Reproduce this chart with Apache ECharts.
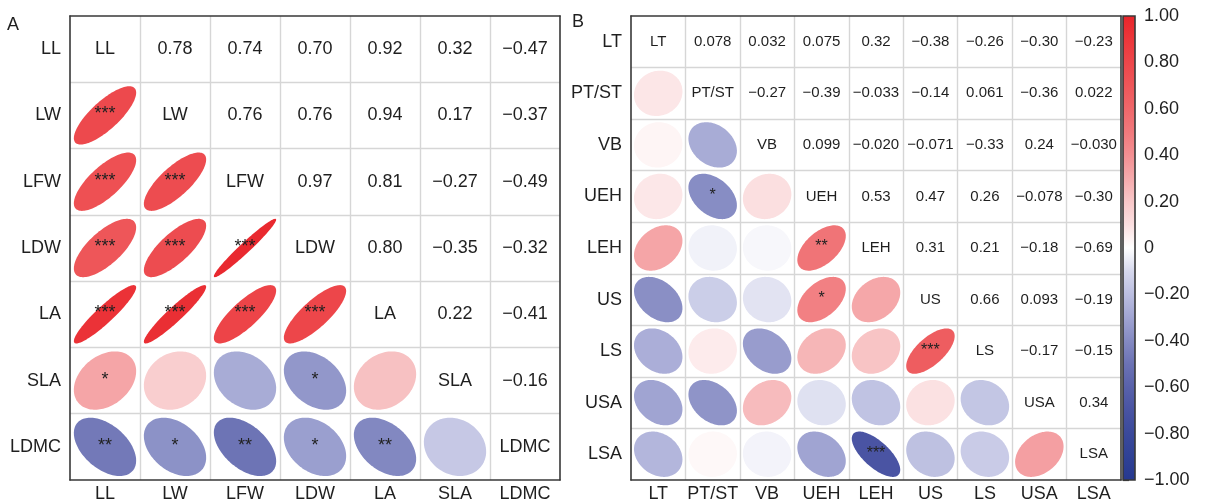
<!DOCTYPE html>
<html>
<head>
<meta charset="utf-8">
<script src="https://cdn.jsdelivr.net/npm/echarts@6/dist/echarts.min.js"></script>
<style>
  html, body { margin: 0; padding: 0; background: #fff; }
  #chart { width: 1205px; height: 503px; }
</style>
</head>
<body>
<div id="chart"></div>
<script>
// panel A: leaf traits
const labelsA = ['LL', 'LW', 'LFW', 'LDW', 'LA', 'SLA', 'LDMC']
// upper triangle, row i -> columns i+1..n-1
const corrA = [
  [0.78, 0.74, 0.70, 0.92, 0.32, -0.47],
  [0.76, 0.76, 0.94, 0.17, -0.37],
  [0.97, 0.81, -0.27, -0.49],
  [0.80, -0.35, -0.32],
  [0.22, -0.41],
  [-0.16]
]
// significance, lower triangle, row i -> columns 0..i-1
const sigA = [
  [],
  ['***'],
  ['***', '***'],
  ['***', '***', '***'],
  ['***', '***', '***', '***'],
  ['*', '', '', '*', ''],
  ['**', '*', '**', '*', '**', '']
]

// panel B: anatomy traits
const labelsB = ['LT', 'PT/ST', 'VB', 'UEH', 'LEH', 'US', 'LS', 'USA', 'LSA']
const corrB = [
  [0.078, 0.032, 0.075, 0.32, -0.38, -0.26, -0.30, -0.23],
  [-0.27, -0.39, -0.033, -0.14, 0.061, -0.36, 0.022],
  [0.099, -0.020, -0.071, -0.33, 0.24, -0.030],
  [0.53, 0.47, 0.26, -0.078, -0.30],
  [0.31, 0.21, -0.18, -0.69],
  [0.66, 0.093, -0.19],
  [-0.17, -0.15],
  [0.34]
]
const sigB = [
  [],
  [''],
  ['', ''],
  ['', '*', ''],
  ['', '', '', '**'],
  ['', '', '', '*', ''],
  ['', '', '', '', '', '***'],
  ['', '', '', '', '', '', ''],
  ['', '', '', '', '***', '', '', '']
]

// colour bar
const scaleRange = [-1, 1]
const barTicks = 0.2
const colorStops = [
  '#25388F', '#2F4195', '#3A499B', '#4853A2', '#5861AA', '#6B72B4', '#848AC2',
  '#A0A4D2', '#BBBEE0', '#D6D8ED', '#FFFFFF', '#FBDFE0', '#F8C7C8', '#F5AAAC',
  '#F38F92', '#F1797C', '#EF676A', '#EE5659', '#ED464A', '#EC363A', '#E8242A'
]

const FONT = '"Liberation Sans", Arial, sans-serif'
const TXT = '#1f1f1f'

const fmt = (r) => r.toPrecision(2).replace('-', '\u2212')

// split the matrix into ellipse cells (lower) and text cells (diag + upper)
function buildCells (labels, corr, sig) {
  const n = labels.length
  const ell = [], stars = [], pos = [], texts = []
  for (let i = 0; i < n; i++) {
    for (let j = 0; j < n; j++) {
      if (i === j) {
        pos.push([j, i]); texts.push(labels[i])
      } else if (j > i) {
        pos.push([j, i]); texts.push(fmt(corr[i][j - i - 1]))
      } else {
        ell.push([j, i, corr[j][i - j - 1]]); stars.push(sig[i][j])
      }
    }
  }
  return { ell, stars, pos, texts }
}

const cellsA = buildCells(labelsA, corrA, sigA)
const cellsB = buildCells(labelsB, corrB, sigB)

function ellipseRenderer (stars, starSize) {
  return function (params, api) {
    const c = api.coord([api.value(0), api.value(1)])
    const s = api.size([1, 1])
    const d = Math.acos(api.value(2))
    const pts = []
    for (let k = 0; k < 120; k++) {
      const t = k / 120 * Math.PI * 2
      pts.push([c[0] + 0.445 * s[0] * Math.cos(t + d / 2), c[1] - 0.44 * s[1] * Math.cos(t - d / 2)])
    }
    return {
      type: 'group',
      children: [
        { type: 'polygon', shape: { points: pts }, style: { fill: api.visual('color') } },
        {
          type: 'text',
          style: {
            text: stars[params.dataIndex], x: c[0], y: c[1] - 1,
            align: 'center', verticalAlign: 'middle', fill: '#222', font: starSize + 'px ' + FONT
          }
        }
      ]
    }
  }
}

function textRenderer (texts, size) {
  return function (params, api) {
    const c = api.coord([api.value(0), api.value(1)])
    return {
      type: 'text',
      style: {
        text: texts[params.dataIndex], x: c[0], y: c[1],
        align: 'center', verticalAlign: 'middle', fill: TXT, font: size + 'px ' + FONT
      }
    }
  }
}

const grids = [
  { left: 70, top: 16, width: 490, height: 464 },
  { left: 631, top: 16, width: 490, height: 464 },
  { left: 1123, top: 16, width: 12, height: 464 }
]

const border = { show: true, lineStyle: { color: '#383838', width: 1.6 } }
const split = { show: true, interval: 0, showMinLine: false, showMaxLine: false, lineStyle: { color: '#d6d6d6', width: 1.4 } }
const lbl = { fontSize: 18, color: TXT, fontFamily: FONT }

function mainX (labels, g) {
  return { type: 'category', gridIndex: g, data: labels, position: 'bottom', axisLine: border, axisTick: { show: false },
    splitLine: split, axisLabel: Object.assign({ margin: 5, interval: 0 }, lbl) }
}
function edgeX (labels, g) {
  return { type: 'category', gridIndex: g, data: labels, position: 'top', z: 5, axisLine: border, axisTick: { show: false },
    axisLabel: { show: false }, splitLine: { show: false } }
}
function mainY (labels, g) {
  return { type: 'category', gridIndex: g, data: labels, inverse: true, position: 'left', axisLine: border, axisTick: { show: false },
    splitLine: split, axisLabel: Object.assign({ margin: 9, interval: 0 }, lbl) }
}
function edgeY (labels, g) {
  return { type: 'category', gridIndex: g, data: labels, inverse: true, position: 'right', z: 5, axisLine: border, axisTick: { show: false },
    axisLabel: { show: false }, splitLine: { show: false } }
}

const option = {
  animation: false,
  title: [
    { text: 'A', left: 7, top: 16, padding: 0, textStyle: { fontSize: 18, fontWeight: 'normal', color: TXT, fontFamily: FONT } },
    { text: 'B', left: 572, top: 13, padding: 0, textStyle: { fontSize: 18, fontWeight: 'normal', color: TXT, fontFamily: FONT } }
  ],
  grid: grids,
  xAxis: [
    mainX(labelsA, 0), edgeX(labelsA, 0),
    mainX(labelsB, 1), edgeX(labelsB, 1),
    { type: 'value', gridIndex: 2, min: 0, max: 1, show: false }
  ],
  yAxis: [
    mainY(labelsA, 0), edgeY(labelsA, 0),
    mainY(labelsB, 1), edgeY(labelsB, 1),
    {
      type: 'value', gridIndex: 2, position: 'right', min: scaleRange[0], max: scaleRange[1], interval: barTicks,
      axisLine: { show: false }, splitLine: { show: false },
      axisTick: { show: true, length: 6, lineStyle: { color: '#383838', width: 1.2 } },
      axisLabel: Object.assign({ margin: 9, formatter: (v) => Math.abs(v) < 1e-9 ? '0' : v.toFixed(2).replace('-', '\u2212') }, lbl)
    }
  ],
  visualMap: {
    type: 'continuous', show: false, min: scaleRange[0], max: scaleRange[1],
    dimension: 2, seriesIndex: [0, 2], inRange: { color: colorStops }
  },
  series: [
    { type: 'custom', xAxisIndex: 0, yAxisIndex: 0, data: cellsA.ell, renderItem: ellipseRenderer(cellsA.stars, 18) },
    { type: 'custom', xAxisIndex: 0, yAxisIndex: 0, data: cellsA.pos, renderItem: textRenderer(cellsA.texts, 18) },
    { type: 'custom', xAxisIndex: 2, yAxisIndex: 2, data: cellsB.ell, renderItem: ellipseRenderer(cellsB.stars, 16) },
    { type: 'custom', xAxisIndex: 2, yAxisIndex: 2, data: cellsB.pos, renderItem: textRenderer(cellsB.texts, 15) },
    {
      type: 'custom', xAxisIndex: 4, yAxisIndex: 4, silent: true, data: [[0, scaleRange[1]]],
      renderItem: (params, api) => {
        const p0 = api.coord([0, scaleRange[1]])
        const p1 = api.coord([1, scaleRange[0]])
        const stops = colorStops.slice().reverse().map((c, i, a) => ({ offset: i / (a.length - 1), color: c }))
        return {
          type: 'rect',
          shape: { x: p0[0], y: p0[1], width: p1[0] - p0[0], height: p1[1] - p0[1] },
          style: { fill: new echarts.graphic.LinearGradient(0, 0, 0, 1, stops), stroke: '#383838', lineWidth: 1.6 }
        }
      }
    }
  ]
}

const myChart = echarts.init(document.getElementById('chart'))
myChart.setOption(option)
</script>
</body>
</html>
